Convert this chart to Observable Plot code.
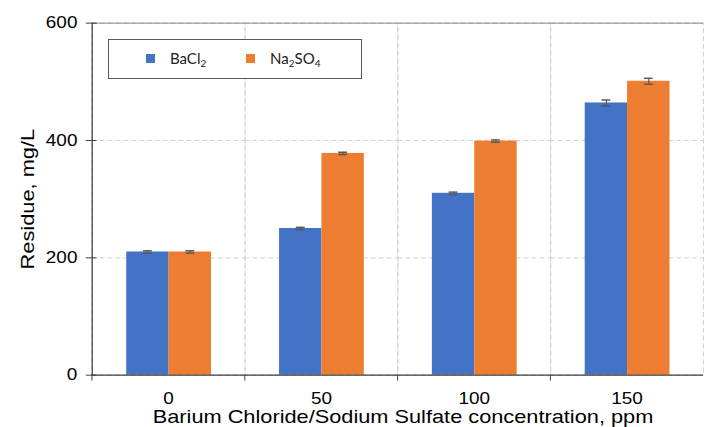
<!DOCTYPE html>
<html>
<head>
<meta charset="utf-8">
<script src="https://cdn.jsdelivr.net/npm/d3@7"></script>
<script src="https://cdn.jsdelivr.net/npm/@observablehq/plot@0.6"></script>
<style>
  html, body { margin: 0; padding: 0; background: #fff; }
  #wrap { position: relative; width: 704px; height: 427px; overflow: hidden; }
  #wrap svg, #wrap svg text { font-family: "Liberation Sans", Arial, sans-serif !important; }
  #wrap svg g[aria-label="y-axis tick label"] text,
  #wrap svg g[aria-label="fx-axis tick label"] text { font-size: 16px; fill: #000; }
  #wrap svg g[aria-label="y-axis label"] text { font-size: 18.6px; fill: #000; }
  #xtitle { position: absolute; left: 92px; width: 622px; top: 406px; text-align: center;
    font-family: "Liberation Sans", Arial, sans-serif; font-size: 18.6px; color: #000;
    transform: scaleX(1.17); transform-origin: 311px 0; white-space: nowrap; }
  #legend { position: absolute; left: 108px; top: 39px; width: 252px; height: 38px;
    border: 1.5px solid #595959; background: #fff; font-family: Lato, "Open Sans", sans-serif;
    font-size: 15px; color: #222; }
  .item { position: absolute; top: 9px; white-space: nowrap; }
  .sw { display: inline-block; width: 9px; height: 9px; margin-right: 15px; vertical-align: 1px; }
  sub { font-size: 10px; vertical-align: -3px; line-height: 0; }
</style>
</head>
<body>
<div id="wrap"></div>
<script>
const categories = ["0", "50", "100", "150"];
const series = ["BaCl2", "Na2SO4"];
const seriesColors = ["#4472C4", "#ED7D31"];
const bacl2 = [210, 250, 310, 464];
const na2so4 = [210, 378, 399, 501];
const bacl2Err = [2, 2, 2, 5];
const na2so4Err = [2, 2, 2, 5];
const yTicks = [0, 200, 400, 600];

const rows = [];
categories.forEach((c, i) => {
  rows.push({conc: c, series: series[0], value: bacl2[i], err: bacl2Err[i]});
  rows.push({conc: c, series: series[1], value: na2so4[i], err: na2so4Err[i]});
});

const chart = Plot.plot({
  width: 714, height: 427,
  marginLeft: 92, marginRight: 0, marginTop: 23, marginBottom: 47,
  style: {fontSize: "15px", color: "#000", background: "#fff"},
  fx: {domain: categories, padding: 0},
  x: {domain: series, paddingInner: 0, paddingOuter: 0.8, axis: null},
  y: {domain: [0, 600]},
  color: {domain: series, range: seriesColors},
  marks: [
    Plot.frame({stroke: "#d0d0d0", strokeDasharray: "5,3"}),
    Plot.gridY(yTicks, {stroke: "#d0d0d0", strokeOpacity: 1, strokeDasharray: "5,3"}),
    Plot.barY(rows, {fx: "conc", x: "series", y: "value", fill: "series"}),
    Plot.ruleX(rows, {fx: "conc", x: "series", y1: d => d.value - d.err, y2: d => d.value + d.err, stroke: "#595959", strokeWidth: 1.2}),
    Plot.tickY(rows, {fx: "conc", x: "series", y: d => d.value - d.err, insetLeft: 17, insetRight: 17, stroke: "#595959", strokeWidth: 1.5}),
    Plot.tickY(rows, {fx: "conc", x: "series", y: d => d.value + d.err, insetLeft: 17, insetRight: 17, stroke: "#595959", strokeWidth: 1.5}),
    Plot.ruleY([600], {stroke: "#8c8c8c"}),
    Plot.ruleY([0], {stroke: "#404040", strokeWidth: 1.3}),
    Plot.frame({anchor: "left", fx: ["0"], stroke: "#404040", strokeWidth: 1.3}),
    Plot.axisY(yTicks, {anchor: "left", tickSize: 6, tickPadding: 9, stroke: "#404040",
      label: "Residue, mg/L", labelAnchor: "center", labelArrow: "none", labelOffset: 72}),
    Plot.axisY(yTicks, {anchor: "left", tickSize: 5, dx: 5, text: null, stroke: "#404040", label: null}),
    Plot.axisFx({anchor: "bottom", tickSize: 0, tickPadding: 18, label: null}),
    Plot.axisFx({anchor: "bottom", tickSize: 6, dx: -77.75, text: null, stroke: "#404040", label: null})
  ]
});
document.getElementById("wrap").appendChild(chart);

// widen glyphs to match the reference's broad lettering
function stretch(sel, k) {
  d3.select(chart).selectAll(sel).each(function() {
    const len = this.getComputedTextLength();
    this.setAttribute("textLength", len * k);
    this.setAttribute("lengthAdjust", "spacingAndGlyphs");
  });
}
stretch("g[aria-label='y-axis tick label'] text", 1.2);
stretch("g[aria-label='fx-axis tick label'] text", 1.2);
stretch("g[aria-label='y-axis label'] text", 1.19);

const xTitle = document.createElement("div");
xTitle.id = "xtitle";
xTitle.textContent = "Barium Chloride/Sodium Sulfate concentration, ppm";
document.getElementById("wrap").appendChild(xTitle);

const legend = document.createElement("div");
legend.id = "legend";
legend.innerHTML =
  `<span class="item" style="left:37px"><span class="sw" style="background:${seriesColors[0]}"></span>BaCl<sub>2</sub></span>` +
  `<span class="item" style="left:137px"><span class="sw" style="background:${seriesColors[1]}"></span>Na<sub>2</sub>SO<sub>4</sub></span>`;
document.getElementById("wrap").appendChild(legend);
</script>
</body>
</html>
